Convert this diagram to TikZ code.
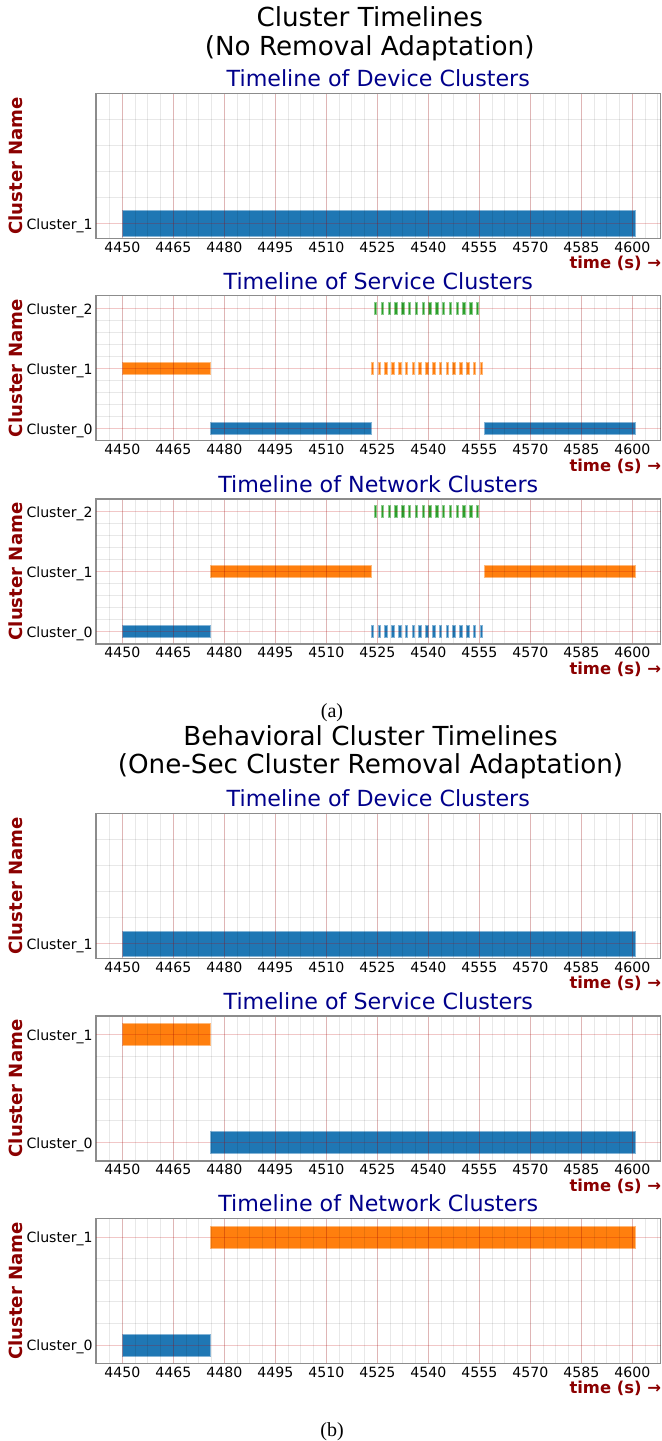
\documentclass[tikz,border=0pt]{standalone}
\usepackage{fontspec}
\setmainfont{DejaVu Sans}
\newfontfamily\capfont{Liberation Serif}

\definecolor{tabblue}{RGB}{31,119,180}
\definecolor{taborange}{RGB}{255,127,14}
\definecolor{tabgreen}{RGB}{44,160,44}
\definecolor{ttlblue}{RGB}{0,0,139}
\definecolor{lblred}{RGB}{139,0,0}
\definecolor{spinegray}{RGB}{140,140,140}

\newcommand{\tpx}[1]{122.3+3.4*(#1-4450)}
\newcommand{\tlbar}[5]{\filldraw[#1] ({\tpx{#2}},{#4-#5}) rectangle ({\tpx{#3}},{#4+#5});}
\newcommand{\clrow}[3]{%
  \draw[gridmajor] (96,#1) -- (660.5,#1);
  \node[ytick] (#3) at (93,{#1+5.8}) {#2};}
\newcommand{\tlpanel}[3]{%
  \foreach \tm in {4442.5,4446.25,...,4608}
    \draw[gridminor] ({\tpx{\tm}},#1) -- ({\tpx{\tm}},{#1+145});
  \foreach \tm in {4450,4465,...,4600} {
    \draw[gridmajor] ({\tpx{\tm}},#1) -- ({\tpx{\tm}},{#1+145});
    \node[xtick] (xt#2-\tm) at ({\tpx{\tm}},{#1+158.7}) {\tm};
  }
  \draw[spine] (96,#1) rectangle (660.5,{#1+145});
  \node[subtitle] (tt#2) at (378.3,{#1-6.6}) {#3};
  \node[xlbl] (xl#2) at (661.5,{#1+175.3}) {time (s) →};
  \node[ylbl] (yl#2) at (15.3,{#1+72.5}) {Cluster Name};}

\begin{document}
\begin{tikzpicture}[x=0.5pt, y=-0.5pt,
    gridmajor/.style={draw=red!75!black, opacity=0.22, line width=0.45pt},
    gridminor/.style={draw=black, opacity=0.09, line width=0.4pt},
    spine/.style={draw=spinegray, line width=0.6pt},
    barblue/.style={fill=tabblue, draw=tabblue!55!white, line width=0.3pt},
    barorange/.style={fill=taborange, draw=taborange!55!white, line width=0.3pt},
    bargreen/.style={fill=tabgreen, draw=tabgreen!55!white, line width=0.3pt},
    suptitle/.style={font=\fontsize{13.1}{15}\selectfont, anchor=base, inner sep=0pt},
    subtitle/.style={font=\fontsize{11.1}{13}\selectfont, text=ttlblue, anchor=base, inner sep=0pt},
    xtick/.style={font=\fontsize{7.05}{8.5}\selectfont, anchor=base, inner sep=0pt},
    ytick/.style={font=\fontsize{7.05}{8.5}\selectfont, anchor=base east, inner sep=0pt},
    xlbl/.style={font=\fontsize{8.2}{10}\selectfont\bfseries, text=lblred, anchor=base east, inner sep=0pt},
    ylbl/.style={font=\fontsize{9.05}{11}\selectfont\bfseries, text=lblred, rotate=90, inner sep=0pt},
    subcap/.style={font=\capfont\fontsize{10}{12}\selectfont, anchor=base, inner sep=0pt}]
  \useasboundingbox (0,0) rectangle (662,1441);

  \node[suptitle] (supA1) at (369.7,26.7) {Cluster Timelines};
  \node[suptitle] (supA2) at (369.7,55) {(No Removal Adaptation)};

  \tlbar{barblue}{4450}{4601}{223.3}{12.7}
  \tlpanel{93.3}{A1}{Timeline of Device Clusters}
  \foreach \y in {119.3,145.3,171.3,197.3}
    \draw[gridminor] (96,\y) -- (660.5,\y);
  \clrow{223.3}{Cluster\_1}{yA1c1}

  \tlbar{barorange}{4450}{4476}{368.3}{6}
  \tlbar{barblue}{4476}{4523.2}{428.3}{6}
  \foreach \k in {0,...,16}
    {\tlbar{barorange}{4523.2+2*\k}{4523.95+2*\k}{368.3}{6}}
  \foreach \k in {0,...,15}
    {\tlbar{bargreen}{4524.1+2*\k}{4524.8+2*\k}{308.3}{6}}
  \tlbar{barblue}{4556.4}{4601}{428.3}{6}
  \tlpanel{295.7}{A2}{Timeline of Service Clusters}
  \foreach \k in {1,2,3,4,6,7,8,9}
    \draw[gridminor] (96,{428.3-12*\k}) -- (660.5,{428.3-12*\k});
  \clrow{428.3}{Cluster\_0}{yA2c0}
  \clrow{368.3}{Cluster\_1}{yA2c1}
  \clrow{308.3}{Cluster\_2}{yA2c2}

  \tlbar{barblue}{4450}{4476}{631.6}{6}
  \tlbar{barorange}{4476}{4523.2}{571.6}{6}
  \foreach \k in {0,...,16}
    {\tlbar{barblue}{4523.2+2*\k}{4523.95+2*\k}{631.6}{6}}
  \foreach \k in {0,...,15}
    {\tlbar{bargreen}{4524.1+2*\k}{4524.8+2*\k}{511.6}{6}}
  \tlbar{barorange}{4556.4}{4601}{571.6}{6}
  \tlpanel{499}{A3}{Timeline of Network Clusters}
  \foreach \k in {1,2,3,4,6,7,8,9}
    \draw[gridminor] (96,{631.6-12*\k}) -- (660.5,{631.6-12*\k});
  \clrow{631.6}{Cluster\_0}{yA3c0}
  \clrow{571.6}{Cluster\_1}{yA3c1}
  \clrow{511.6}{Cluster\_2}{yA3c2}

  \node[subcap] (capA) at (332,717.7) {(a)};

  \node[suptitle] (supB1) at (370.5,745) {Behavioral Cluster Timelines};
  \node[suptitle] (supB2) at (370.5,773.3) {(One-Sec Cluster Removal Adaptation)};

  \tlbar{barblue}{4450}{4601}{943.7}{12.8}
  \tlpanel{813.3}{B1}{Timeline of Device Clusters}
  \foreach \y in {839.7,865.7,891.7,917.7}
    \draw[gridminor] (96,\y) -- (660.5,\y);
  \clrow{943.7}{Cluster\_1}{yB1c1}

  \tlbar{barorange}{4450}{4476}{1034.4}{10.8}
  \tlbar{barblue}{4476}{4601}{1142.4}{10.8}
  \tlpanel{1015.9}{B2}{Timeline of Service Clusters}
  \foreach \k in {1,...,4}
    \draw[gridminor] (96,{1142.4-21.6*\k}) -- (660.5,{1142.4-21.6*\k});
  \clrow{1142.4}{Cluster\_0}{yB2c0}
  \clrow{1034.4}{Cluster\_1}{yB2c1}

  \tlbar{barblue}{4450}{4476}{1345}{10.8}
  \tlbar{barorange}{4476}{4601}{1237}{10.8}
  \tlpanel{1218.5}{B3}{Timeline of Network Clusters}
  \foreach \k in {1,...,4}
    \draw[gridminor] (96,{1345-21.6*\k}) -- (660.5,{1345-21.6*\k});
  \clrow{1345}{Cluster\_0}{yB3c0}
  \clrow{1237}{Cluster\_1}{yB3c1}

  \node[subcap] (capB) at (332,1436) {(b)};
\end{tikzpicture}
\end{document}
